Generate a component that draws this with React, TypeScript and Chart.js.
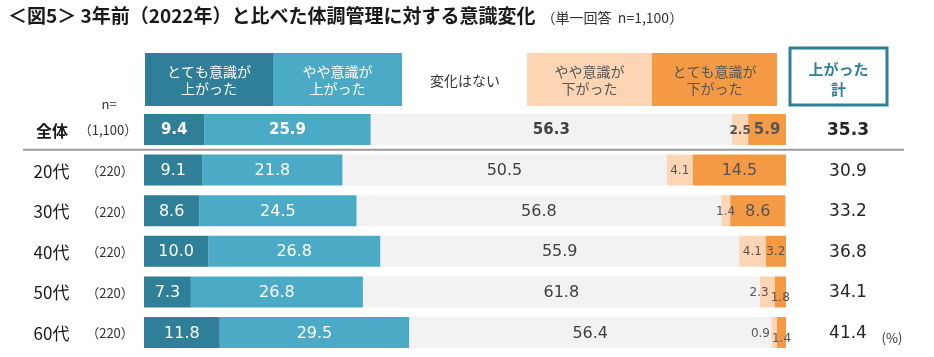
import React, { useEffect, useRef } from "react";
import { Chart, registerables } from "chart.js";

Chart.register(...registerables);

const categories = ["全体", "20代", "30代", "40代", "50代", "60代"];
const sampleSizes = ["（1,100）", "（220）", "（220）", "（220）", "（220）", "（220）"];
const veryUp = [9.4, 9.1, 8.6, 10.0, 7.3, 11.8];
const slightlyUp = [25.9, 21.8, 24.5, 26.8, 26.8, 29.5];
const noChange = [56.3, 50.5, 56.8, 55.9, 61.8, 56.4];
const slightlyDown = [2.5, 4.1, 1.4, 4.1, 2.3, 0.9];
const veryDown = [5.9, 14.5, 8.6, 3.2, 1.8, 1.4];
const upTotal = [35.3, 30.9, 33.2, 36.8, 34.1, 41.4];
const seriesNames = [
  "とても意識が\n上がった",
  "やや意識が\n上がった",
  "変化はない",
  "やや意識が\n下がった",
  "とても意識が\n下がった",
];
const seriesColors = ["#2e7f97", "#4babc7", "#f2f2f2", "#fcd5b5", "#f49a45"];
const title = "＜図5＞ 3年前（2022年）と比べた体調管理に対する意識変化";
const subtitle = "（単一回答  n=1,100）";
const totalHeader = "上がった\n計";

const JP = '"Noto Sans CJK JP", "Noto Sans", sans-serif';
const NUM = '"DejaVu Sans", sans-serif';

const overlayPlugin = {
  id: "overlay",
  afterDraw(chart: any) {
    const ctx: CanvasRenderingContext2D = chart.ctx;
    const yScale = chart.scales.y;
    ctx.save();

    // title
    ctx.textBaseline = "middle";
    ctx.textAlign = "left";
    ctx.fillStyle = "#1a1a1a";
    ctx.font = `bold 19px ${JP}`;
    ctx.fillText(title, 8, 16);
    const tw = ctx.measureText(title).width;
    ctx.font = `14px ${JP}`;
    ctx.fillStyle = "#333";
    ctx.fillText(subtitle, 8 + tw + 6, 18);

    // legend boxes
    const legendBoxes = [
      [145, 273],
      [273, 402],
      null,
      [527, 652],
      [652, 777],
    ];
    const ly0 = 53, ly1 = 106;
    legendBoxes.forEach((b, d) => {
      const lines = seriesNames[d].split("\n");
      let cx: number;
      if (b) {
        ctx.fillStyle = seriesColors[d];
        ctx.fillRect(b[0], ly0, b[1] - b[0], ly1 - ly0);
        cx = (b[0] + b[1]) / 2;
      } else {
        cx = 465;
      }
      ctx.fillStyle = d < 2 ? "#ffffff" : d === 2 ? "#333" : "#555";
      ctx.font = `14px ${JP}`;
      ctx.textAlign = "center";
      const cy = (ly0 + ly1) / 2 + 1;
      if (lines.length === 1) ctx.fillText(lines[0], cx, cy);
      else {
        ctx.fillText(lines[0], cx, cy - 8.5);
        ctx.fillText(lines[1], cx, cy + 8.5);
      }
    });

    // total header box
    ctx.strokeStyle = "#2e7f97";
    ctx.lineWidth = 3;
    ctx.strokeRect(790, 48, 97, 57);
    ctx.fillStyle = "#2e7f97";
    ctx.font = `bold 15px ${JP}`;
    const th = totalHeader.split("\n");
    ctx.fillText(th[0], 838.5, 69);
    ctx.fillText(th[1], 838.5, 89);

    // n=
    ctx.fillStyle = "#333";
    ctx.font = `13px ${JP}`;
    ctx.fillText("n=", 109, 104);

    // rows left / right
    categories.forEach((c, i) => {
      const y = yScale.getPixelForValue(i);
      ctx.fillStyle = "#1a1a1a";
      ctx.textAlign = "center";
      ctx.font = i === 0 ? `bold 16px ${JP}` : `17px ${JP}`;
      ctx.fillText(c, i === 0 ? 52 : 51.5, y + 1);
      ctx.font = `13px ${JP}`;
      ctx.fillStyle = "#333";
      ctx.fillText(sampleSizes[i], i === 0 ? 108 : 110, y + 1);
      ctx.font = i === 0 ? `bold 17px ${NUM}` : `17px ${NUM}`;
      ctx.fillStyle = "#262626";
      ctx.fillText(upTotal[i].toFixed(1), 848, y + 1);
    });

    // separator
    const ys = (yScale.getPixelForValue(0) + yScale.getPixelForValue(1)) / 2;
    ctx.strokeStyle = "#9a9a9a";
    ctx.lineWidth = 2;
    ctx.beginPath();
    ctx.moveTo(23, ys);
    ctx.lineTo(904, ys);
    ctx.stroke();

    // (%)
    ctx.fillStyle = "#333";
    ctx.font = `13px ${JP}`;
    ctx.textAlign = "center";
    ctx.fillText("(%)", 892, yScale.getPixelForValue(categories.length - 1) + 6);

    // data labels
    const nDs = chart.data.datasets.length;
    categories.forEach((_, i) => {
      const bold = i === 0;
      const items: any[] = [];
      for (let d = 0; d < nDs; d++) {
        const el = chart.getDatasetMeta(d).data[i];
        const v = chart.data.datasets[d].data[i] as number;
        const left = Math.min(el.x, el.base);
        const right = Math.max(el.x, el.base);
        const txt = v.toFixed(1);
        let font = bold ? `bold 15px ${NUM}` : `16px ${NUM}`;
        ctx.font = font;
        let w = ctx.measureText(txt).width;
        if (w + 6 > right - left) {
          font = bold ? `bold 12px ${NUM}` : `12px ${NUM}`;
          ctx.font = font;
          w = ctx.measureText(txt).width;
        }
        items.push({ d, txt, font, w, cx: (left + right) / 2, y: el.y + 1, left, right });
      }
      // resolve right-end overlap
      const a = items[nDs - 2];
      const b = items[nDs - 1];
      if (b.w > b.right - b.left) b.y += 5;
      const bLeft = b.cx - b.w / 2;
      if (a.cx + a.w / 2 > bLeft - 2) a.cx = bLeft - 2 - a.w / 2;
      items.forEach((it) => {
        ctx.font = it.font;
        ctx.fillStyle = it.d < 2 ? "#ffffff" : it.d === 2 ? "#404040" : "#555555";
        ctx.textAlign = "center";
        ctx.fillText(it.txt, it.cx, it.y);
      });
    });

    ctx.restore();
  },
};

export default function App() {
  const ref = useRef<HTMLCanvasElement | null>(null);
  useEffect(() => {
    if (!ref.current) return;
    const data = [veryUp, slightlyUp, noChange, slightlyDown, veryDown];
    const chart = new Chart(ref.current, {
      type: "bar",
      data: {
        labels: categories,
        datasets: data.map((arr, d) => ({
          label: seriesNames[d].replace("\n", ""),
          data: arr,
          backgroundColor: seriesColors[d],
          borderWidth: 0,
          barPercentage: 1,
          categoryPercentage: 0.763,
        })),
      },
      options: {
        indexAxis: "y",
        responsive: false,
        animation: false,
        devicePixelRatio: 1,
        layout: { padding: { left: 144, right: 148, top: 109.2, bottom: 4.2 } },
        plugins: { legend: { display: false }, tooltip: { enabled: false } },
        scales: {
          x: { stacked: true, min: 0, max: 100, display: false },
          y: { stacked: true, display: false },
        },
      },
      plugins: [overlayPlugin],
    });
    return () => chart.destroy();
  }, []);
  return (
    <div style={{ position: "absolute", left: 0, top: 0, width: 934, height: 357, background: "#fff" }}>
      <canvas ref={ref} width={934} height={357} style={{ display: "block" }} />
    </div>
  );
}
